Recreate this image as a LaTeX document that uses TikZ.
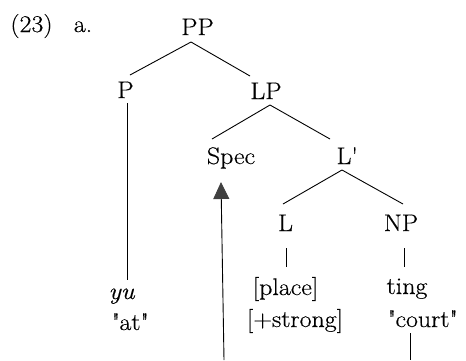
\documentclass[tikz,border=0pt]{standalone}
\usepackage{fontspec}
\setmainfont{Latin Modern Roman}[FakeStretch=1.08,FakeBold=0.4]
\usetikzlibrary{calc,arrows.meta}
\begin{document}
\begin{tikzpicture}[x=1pt,y=-1pt,
  lab/.style={anchor=base,inner sep=0pt,font=\fontsize{24}{28}\selectfont},
  edge/.style={line width=0.9pt},
  mov/.style={line width=0.9pt,-{Triangle[width=16pt,length=17pt,color=black!75,fill=black!75]}}]
\useasboundingbox (0,0) rectangle (466,360);
% labels
\node[lab] (num) at (31.5,32) {(23)};
\node[lab] (ex) at (83,32) {a.};
\node[lab] (PP) at (197.5,35) {PP};
\node[lab] (P) at (125.5,98) {P};
\node[lab] (LP) at (266,99) {LP};
\node[lab] (Spec) at (231,164) {Spec};
\node[lab] (Lbar) at (347,164) {L\textquotesingle};
\node[lab] (L) at (285.5,231) {L};
\node[lab] (NP) at (401,231) {NP};
\node[lab] (place) at (285.5,295) {[place]};
\node[lab] (strong) at (295,327) {[+strong]};
\node[lab] (ting) at (407,294) {ting};
\node[lab] (court) at (422.5,327) {\textquotedbl court\textquotedbl};
\node[lab] (yu) at (121.5,299) {\itshape yu};
\node[lab] (at) at (130,330) {\textquotedbl at\textquotedbl};
\coordinate (cbot) at (410,360);
\coordinate (abot) at (224,360);
% branches
\draw[edge] ($(PP.base)+(-6.5,7)$) -- ($(P.base)+(4.5,-23)$);
\draw[edge] ($(PP.base)+(-6.5,7)$) -- ($(LP.base)+(-16,-23)$);
\draw[edge] ($(LP.base)+(4,6)$) -- ($(Spec.base)+(-19,-25)$);
\draw[edge] ($(LP.base)+(4,6)$) -- ($(Lbar.base)+(-17,-25)$);
\draw[edge] ($(Lbar.base)+(-5,6)$) -- ($(L.base)+(-2.5,-27)$);
\draw[edge] ($(Lbar.base)+(-5,6)$) -- ($(NP.base)+(2,-27)$);
\draw[edge] ($(L.base)+(0.5,17)$) -- ($(place.base)+(0.5,-28)$);
\draw[edge] ($(NP.base)+(3,17)$) -- ($(ting.base)+(-3,-27)$);
\draw[edge] ($(P.base)+(1.5,5)$) -- ($(yu.base)+(5.5,-19)$);
\draw[edge] ($(court.base)+(-12.5,6)$) -- (cbot);
% movement arrow
\draw[mov] (abot) -- ($(Spec.base)+(-10,18)$);
\end{tikzpicture}
\end{document}
